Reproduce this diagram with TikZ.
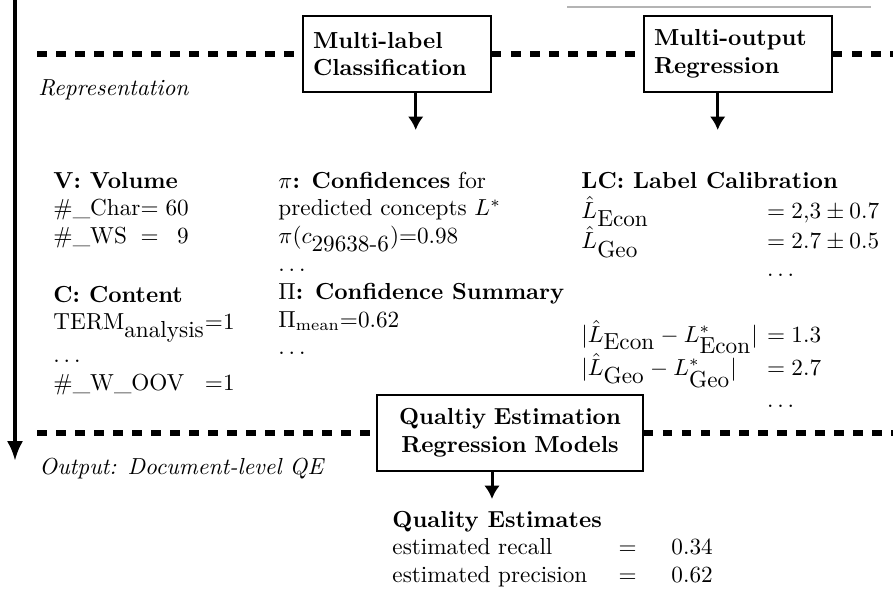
\documentclass[tikz,border=0pt]{standalone}
\usepackage{amsmath,amssymb}
\usepackage{tikz}
\usetikzlibrary{arrows.meta,positioning,calc}
\definecolor{rulegray}{HTML}{B4B4B4}

\begin{document}
\begin{tikzpicture}[
  x=.4312pt,y=-.4312pt,
  line cap=butt,line join=miter,
  stage/.style={draw,line width=.9pt,fill=white,align=left,font=\bfseries,
                text width=72.4pt,inner xsep=4.3pt,minimum height=32.8pt},
  tier/.style={line width=2.4pt,dash pattern=on 4.1pt off 4.1pt},
  arrow/.style={-{Latex[length=5.8pt,width=6.8pt]},line width=1.3pt},
  flow/.style={-{Latex[length=8.6pt,width=7pt]},line width=2pt},
  tag/.style={font=\itshape,anchor=base west,inner sep=0pt},
  block/.style={anchor=base west,inner sep=0pt}
]
\useasboundingbox (0,0) rectangle (893,588);
\draw[rulegray,line width=.5pt] (567,7) -- (871,7);

% processing direction
\coordinate (flowtop) at (15,0);
\coordinate (flowend) at (15,461);
\draw[flow] (flowtop) -- (flowend);

% representation tier
\coordinate (repL) at (37,54);
\coordinate (repR) at (893,54);
\node[stage] (mlc) at (397,54) {Multi-label\\Classification};
\node[stage] (mor) at (738,54) {Multi-output\\Regression};
\draw[tier] (repL) -- (mlc.west);
\draw[tier] (mlc.east) -- (mor.west);
\draw[tier] (mor.east) -- (repR);
\node[tag] (reptag) at (38,95) {Representation};

\coordinate (mlcout) at (415.7,130);
\coordinate (morout) at (717.7,130);
\draw[arrow] (mlc.south -| mlcout) -- (mlcout);
\draw[arrow] (mor.south -| morout) -- (morout);

% features
\node[block] (vol) at (53,188) {\begin{tabular}[t]{@{}l@{}c@{\hspace{3pt}}r@{}}
  \multicolumn{3}{@{}l@{}}{\textbf{V: Volume}}\\
  \#\_Char & = & 60\\
  \#\_WS & = & 9
\end{tabular}};
\node[block] (cont) at (53,302) {\begin{tabular}[t]{@{}l@{}l@{}}
  \multicolumn{2}{@{}l@{}}{\textbf{C: Content}}\\
  TERM$_{\mbox{analysis}}$ & =1\\
  $\ldots$ & \\
  \#\_W\_OOV & =1
\end{tabular}};
\node[block] (conf) at (278,188) {\begin{tabular}[t]{@{}l@{}}
  $\pi$\textbf{: Confidences} for\\
  predicted concepts $L^*$\\
  $\pi(c_{\mbox{29638-6}})$=0.98\\
  $\ldots$\\
  $\Pi$\textbf{: Confidence Summary}\\
  $\Pi_{\mathrm{mean}}$=0.62\\
  $\ldots$
\end{tabular}};
\node[block] (calib) at (581,188) {\begin{tabular}[t]{@{}l@{\hspace{4pt}}l@{}}
  \multicolumn{2}{@{}l@{}}{\textbf{LC: Label Calibration}}\\
  $\hat L_{\mbox{Econ}}$ & $= 2{,}3 \pm 0.7$\\
  $\hat L_{\mbox{Geo}}$ & $= 2.7 \pm 0.5$\\
  & $\ldots$\\[15pt]
  $|\hat L_{\mbox{Econ}} - L^*_{\mbox{Econ}}|$ & $= 1.3$\\
  $|\hat L_{\mbox{Geo}} - L^*_{\mbox{Geo}}|$ & $= 2.7$\\[1pt]
  & $\ldots$
\end{tabular}};

% output tier
\coordinate (outL) at (37,433);
\coordinate (outR) at (893,433);
\node[stage,align=center,text width=106pt,minimum height=32.8pt] (qem) at (510,433)
  {Qualtiy Estimation\\Regression Models};
\draw[tier] (outL) -- (qem.west);
\draw[tier] (qem.east) -- (outR);
\node[tag] (outtag) at (39,474) {Output: Document-level QE};

\coordinate (qemout) at (492,499);
\draw[arrow] (qem.south -| qemout) -- (qemout);

\node[block] (qe) at (392,527) {\begin{tabular}[t]{@{}l@{\hspace{13.5pt}}c@{\hspace{15pt}}l@{}}
  \multicolumn{3}{@{}l@{}}{\textbf{Quality Estimates}}\\
  estimated recall & = & 0.34\\
  estimated precision & = & 0.62
\end{tabular}};
\end{tikzpicture}
\end{document}
